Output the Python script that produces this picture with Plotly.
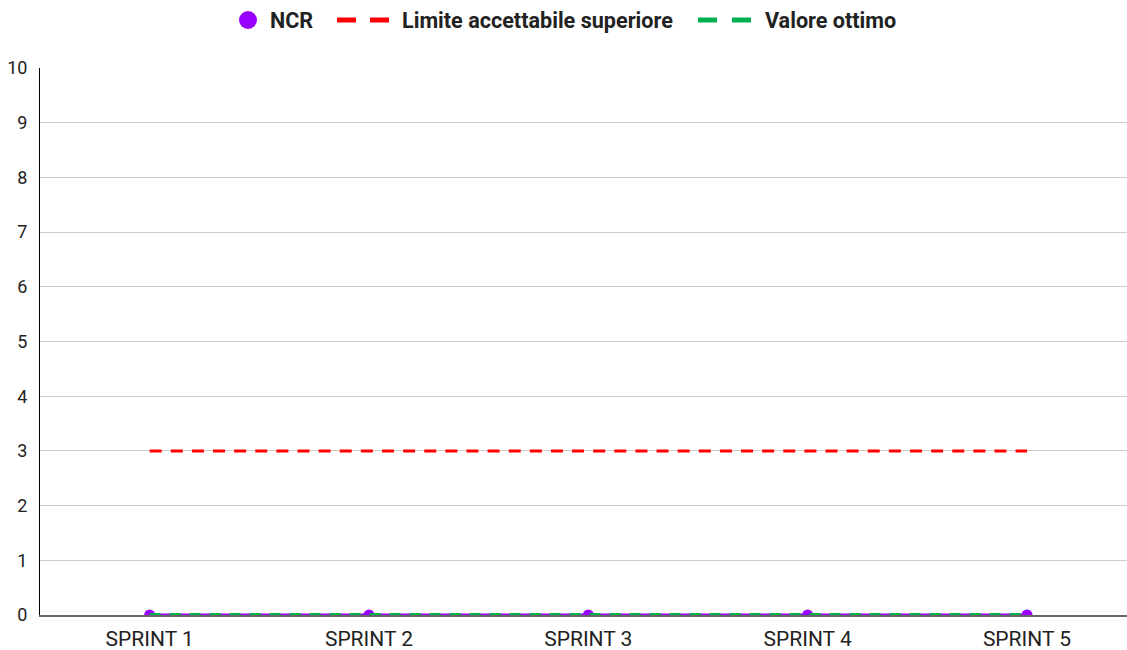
import plotly.graph_objects as go

categories = ["SPRINT 1", "SPRINT 2", "SPRINT 3", "SPRINT 4", "SPRINT 5"]
ncr = [0, 0, 0, 0, 0]
limite_superiore = [3, 3, 3, 3, 3]
valore_ottimo = [0, 0, 0, 0, 0]
y_ticks = [0, 1, 2, 3, 4, 5, 6, 7, 8, 9, 10]
series_names = ["NCR", "Limite accettabile superiore", "Valore ottimo"]

PURPLE = "#9900ff"
RED = "#ff0000"
GREEN = "#00b050"
TEXT = "#222222"

W, H = 1127, 650
L, R, T, B = 40, 0, 68, 35
PW, PH = W - L - R, H - T - B


def px_x(p):
    return (p - L) / PW


def px_y(p):
    return (H - B - p) / PH


fig = go.Figure()
fig.add_trace(go.Scatter(
    x=categories, y=ncr, mode="lines+markers", name=series_names[0],
    line=dict(color=PURPLE, width=3), marker=dict(color=PURPLE, size=11),
    showlegend=False,
))
fig.add_trace(go.Scatter(
    x=categories, y=limite_superiore, mode="lines", name=series_names[1],
    line=dict(color=RED, width=3, dash="12px,9.12px"), showlegend=False,
))
fig.add_trace(go.Scatter(
    x=categories, y=valore_ottimo, mode="lines", name=series_names[2],
    line=dict(color=GREEN, width=4, dash="11px,9px"), showlegend=False,
))

# Legend drawn at the top (key symbols + bold labels)
ly = px_y(20)
shapes = [
    dict(type="circle", xref="paper", yref="paper",
         x0=px_x(239), x1=px_x(257), y0=px_y(29), y1=px_y(11),
         fillcolor=PURPLE, line=dict(width=0)),
]
for x0, x1, c in [(337, 356, RED), (370, 389, RED), (698, 717, GREEN), (732, 751, GREEN)]:
    shapes.append(dict(type="line", xref="paper", yref="paper",
                       x0=px_x(x0), x1=px_x(x1), y0=ly, y1=ly,
                       line=dict(color=c, width=5)))
annotations = []
for name, xl in zip(series_names, [268, 400, 763]):
    annotations.append(dict(
        text=name, xref="paper", yref="paper", x=px_x(xl), y=ly,
        xanchor="left", yanchor="middle", showarrow=False,
        font=dict(family="Roboto", size=21.6, color=TEXT, weight="bold"),
    ))

fig.update_layout(
    width=W, height=H,
    margin=dict(l=L, r=R, t=T, b=B),
    paper_bgcolor="white", plot_bgcolor="white",
    font=dict(family="Roboto", color=TEXT),
    showlegend=False,
    shapes=shapes,
    annotations=annotations,
    xaxis=dict(
        type="category", range=[-0.5, 4.456],
        showgrid=False, showline=True, linecolor="#666666", linewidth=2,
        ticks="", tickfont=dict(size=21, color=TEXT),
        zeroline=False, ticklabelstandoff=4,
    ),
    yaxis=dict(
        range=[0, 10], tickvals=y_ticks, ticktext=[str(v) for v in y_ticks],
        showgrid=True, gridcolor="#cccccc", gridwidth=1,
        showline=True, linecolor="#000000", linewidth=1,
        ticks="", tickfont=dict(size=18, color=TEXT),
        zeroline=False, ticklabelstandoff=8,
    ),
)

fig.write_html(
    "out.html",
    config={"displayModeBar": False},
    post_script="document.body.style.margin='0';document.body.style.overflow='hidden';",
)
